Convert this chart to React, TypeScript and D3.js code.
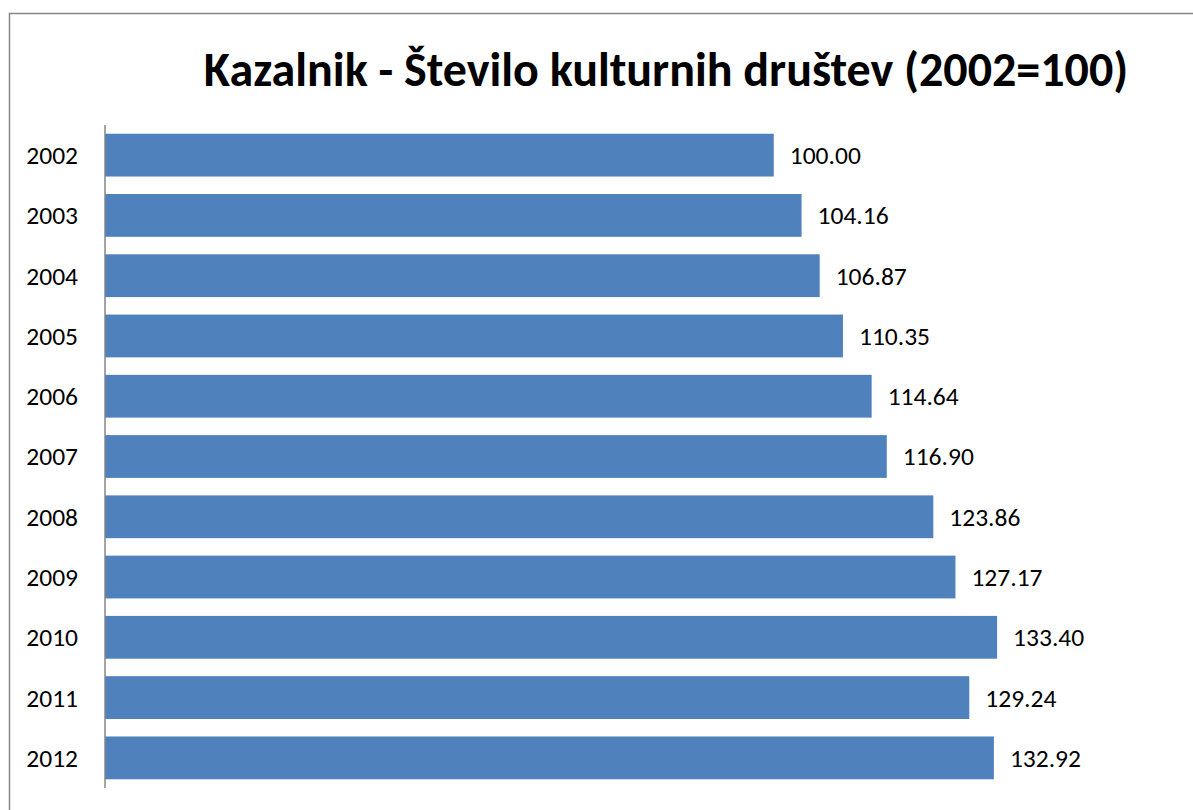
import React from "react";
import * as d3 from "d3";

const years = ["2002", "2003", "2004", "2005", "2006", "2007", "2008", "2009", "2010", "2011", "2012"];
const values = [100.0, 104.16, 106.87, 110.35, 114.64, 116.9, 123.86, 127.17, 133.4, 129.24, 132.92];
const title = "Kazalnik - Število kulturnih društev (2002=100)";

const W = 1193;
const H = 810;
const FONT = "Calibri, Carlito, 'Open Sans', 'Noto Sans', sans-serif";

export default function App() {
  // scales
  const x = d3.scaleLinear().domain([0, 160]).range([105, 1175]);
  const y = d3.scaleBand<string>()
    .domain(years)
    .range([125, 788])
    .paddingInner(0.29)
    .paddingOuter(0.145);

  return (
    <div style={{ position: "absolute", left: 0, top: 0 }}>
      <svg width={W} height={H} style={{ display: "block", background: "#fff" }}>
        {/* outer chart border, cropped at right/bottom */}
        <rect x={9.5} y={13.5} width={W + 20} height={H + 20} fill="#fff" stroke="#868686" strokeWidth={1.5} />

        <text
          x={666}
          y={86}
          textAnchor="middle"
          fontFamily={FONT}
          fontWeight="bold"
          fontSize={48}
        >
          {title}
        </text>

        {years.map((yr, i) => (
          <g key={yr}>
            <rect
              x={x(0)}
              y={y(yr)}
              width={x(values[i]) - x(0)}
              height={y.bandwidth()}
              fill="#4F81BD"
            />
            <text
              x={x(values[i]) + 16}
              y={y(yr)! + y.bandwidth() / 2}
              dy="0.35em"
              fontFamily={FONT}
              fontSize={25.5}
              fill="#000"
            >
              {values[i].toFixed(2)}
            </text>
            <text
              x={78}
              y={y(yr)! + y.bandwidth() / 2}
              dy="0.35em"
              textAnchor="end"
              fontFamily={FONT}
              fontSize={25.5}
              fill="#000"
            >
              {yr}
            </text>
          </g>
        ))}

        {/* category axis line */}
        <line x1={105} x2={105} y1={125} y2={788} stroke="#868686" strokeWidth={1.5} />
      </svg>
    </div>
  );
}
